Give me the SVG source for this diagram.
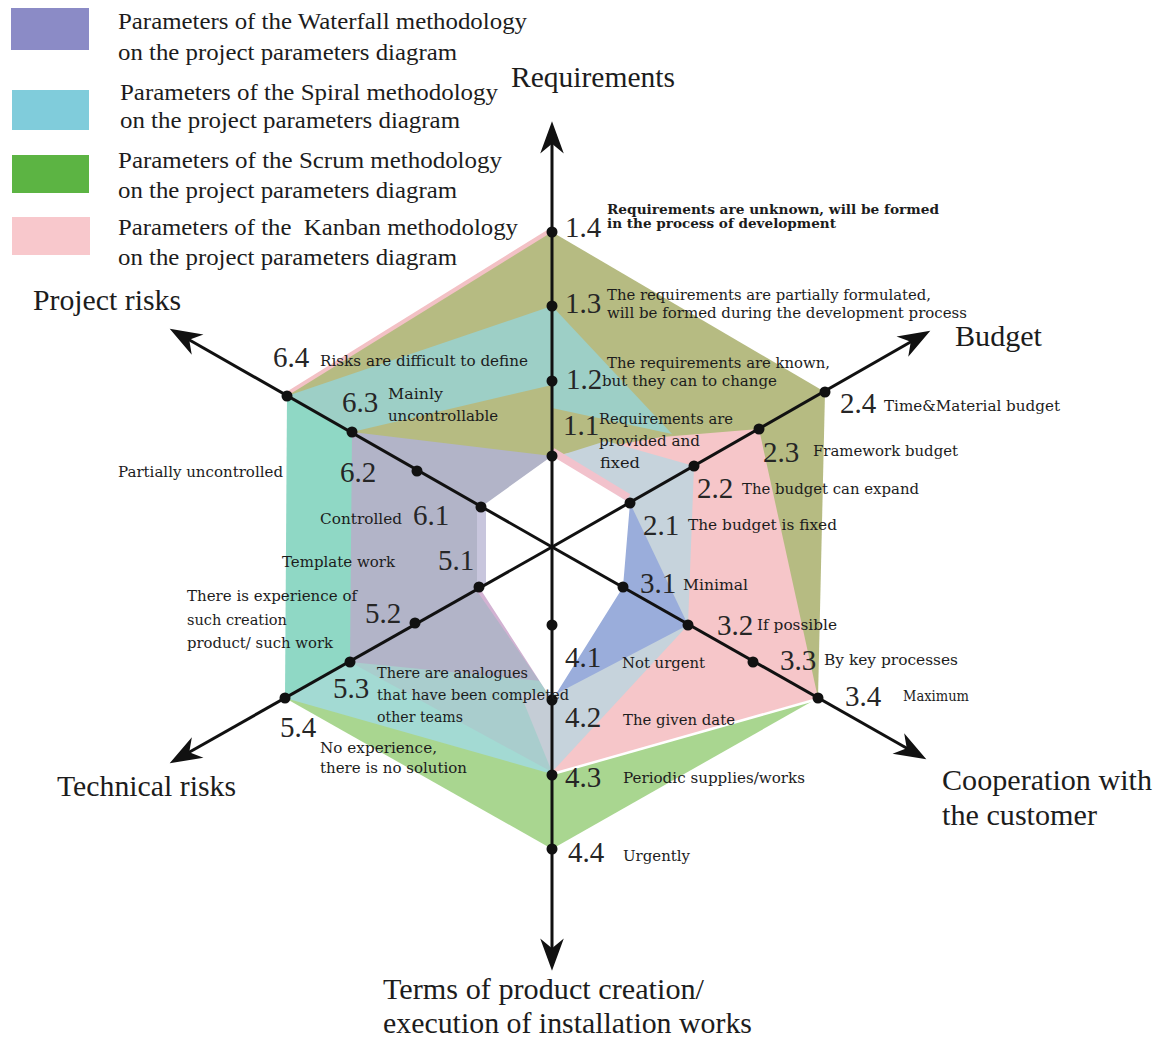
<svg xmlns="http://www.w3.org/2000/svg" width="1160" height="1039" viewBox="0 0 1160 1039">
  <defs>
    <style>
      .lg { font-family: "Liberation Serif", "Times New Roman", serif; font-size: 24px; fill: #1c1c1c; }
      .ax { font-family: "Liberation Serif", "Times New Roman", serif; font-size: 29px; fill: #1c1c1c; }
      .num { font-family: "Liberation Serif", "Times New Roman", serif; font-size: 29px; fill: #262626; }
      .sm { font-family: "DejaVu Serif", "Liberation Serif", serif; font-size: 14px; fill: #1c1c1c; }
      .tiny { font-family: "DejaVu Serif", "Liberation Serif", serif; font-size: 12px; font-weight: bold; fill: #1c1c1c; }
      .axis { stroke: #111; stroke-width: 3; fill: none; marker-end: url(#head); }
      .dot { fill: #111; }
      .olive { fill: #b6bb82; }
      .teal { fill: #9dcfc6; }
      .mint { fill: #8fd8c5; }
      .gp { fill: #b2b4c8; }
      .gb { fill: #c6d3dc; }
      .pink { fill: #f6c6c9; }
      .blue { fill: #9aaddb; }
      .green { fill: #a9d690; }
      .cyan { fill: #a3dad3; }
      .tg { fill: #a9cdcd; }
      .lgrey { fill: #c5cdd6; }
    </style>
    <marker id="head" markerUnits="userSpaceOnUse" markerWidth="40" markerHeight="30" viewBox="-22 -14 34 28" refX="0" refY="0" orient="auto">
      <path d="M10,0 L-20,-11 L-11,0 L-20,11 Z" fill="#111"/>
    </marker>
  </defs>

  <rect width="1160" height="1039" fill="#fff"/>

  <!-- legend -->
  <g id="legend">
    <g id="legend-waterfall">
      <rect x="11" y="8" width="78" height="42" fill="#8b8bc6"/>
      <text class="lg" x="118" y="29" textLength="409" lengthAdjust="spacingAndGlyphs">Parameters of the Waterfall methodology</text>
      <text class="lg" x="118" y="60" textLength="339" lengthAdjust="spacingAndGlyphs">on the project parameters diagram</text>
    </g>
    <g id="legend-spiral">
      <rect x="12" y="90" width="77" height="40" fill="#80ccdb"/>
      <text class="lg" x="120" y="100" textLength="378" lengthAdjust="spacingAndGlyphs">Parameters of the Spiral methodology</text>
      <text class="lg" x="120" y="128" textLength="340" lengthAdjust="spacingAndGlyphs">on the project parameters diagram</text>
    </g>
    <g id="legend-scrum">
      <rect x="12" y="155" width="77" height="38" fill="#5cb443"/>
      <text class="lg" x="118" y="168" textLength="384" lengthAdjust="spacingAndGlyphs">Parameters of the Scrum methodology</text>
      <text class="lg" x="118" y="198" textLength="339" lengthAdjust="spacingAndGlyphs">on the project parameters diagram</text>
    </g>
    <g id="legend-kanban">
      <rect x="12" y="217" width="78" height="38" fill="#f8c8cc"/>
      <text class="lg" x="118" y="235" textLength="400" lengthAdjust="spacingAndGlyphs" xml:space="preserve">Parameters of the  Kanban methodology</text>
      <text class="lg" x="118" y="265" textLength="339" lengthAdjust="spacingAndGlyphs">on the project parameters diagram</text>
    </g>
  </g>

  <!-- filled parameter bands, painted sector by sector from the outside in -->
  <g id="areas">
    <!-- requirements / budget -->
    <polygon class="olive" points="552,547 552,232 825,392"/>
    <polygon class="teal" points="552,306 672,434 552,408"/>
    <polygon class="pink" points="552,456 662,437 759,429 630,503"/>
    <polygon class="gb" points="552,458 606,441 694,466 630,503"/>
    <line x1="552" y1="452" x2="628" y2="498" stroke="#f2c2cc" stroke-width="9"/>
    <line x1="566" y1="471" x2="628" y2="505" stroke="#c8abd5" stroke-width="6"/>

    <!-- budget / cooperation -->
    <polygon class="olive" points="552,547 825,392 818,698"/>
    <polygon class="pink" points="552,547 759,429 818,698"/>
    <polygon class="gb" points="552,547 694,466 688,625"/>
    <polygon class="blue" points="552,547 630,503 688,625"/>

    <!-- cooperation / terms -->
    <polygon class="green" points="552,547 818,698 552,849"/>
    <polygon class="pink" points="552,547 818,698 552,775"/>
    <line x1="814" y1="700" x2="556" y2="773" stroke="#fff" stroke-width="2.5"/>
    <polygon class="gb" points="552,547 688,625 552,772"/>
    <polygon class="blue" points="552,547 688,625 556,694"/>

    <!-- terms / technical risks -->
    <polygon class="green" points="552,547 552,849 285,698"/>
    <polygon class="cyan" points="552,547 552,774 285,698"/>
    <polygon class="tg" points="552,547 552,772 350,662"/>
    <polygon class="lgrey" points="552,772 520,693 552,694"/>
    <polygon class="gp" points="552,547 350,662 552,682"/>
    <line x1="479" y1="587" x2="552" y2="692" stroke="#d2b2d2" stroke-width="8"/>

    <!-- technical risks / project risks -->
    <polygon class="mint" points="552,547 285,698 287,396"/>
    <polygon class="gp" points="552,547 350,662 352,432"/>
    <rect x="477" y="505" width="12" height="84" fill="#c8c6dd"/>

    <!-- project risks / requirements -->
    <polygon fill="#f3c1c5" points="552,547 283,394 552,227"/>
    <polygon class="olive" points="552,547 287,396 552,232"/>
    <polygon class="teal" points="552,547 287,396 552,306"/>
    <polygon class="olive" points="552,547 352,432 552,385"/>
    <polygon class="gp" points="552,547 352,432 552,456"/>

    <!-- empty centre -->
    <polygon fill="#fff" points="552,456 630,503 623,587 556,694 548,694 479,587 486,585 486,509 481,507"/>
  </g>

  <!-- axes with their arrowheads -->
  <g id="connectors">
    <line class="axis" x1="552" y1="547" x2="552" y2="132"/>
    <line class="axis" x1="552" y1="547" x2="921" y2="336"/>
    <line class="axis" x1="552" y1="547" x2="917" y2="754"/>
    <line class="axis" x1="552" y1="547" x2="552" y2="960"/>
    <line class="axis" x1="552" y1="547" x2="179" y2="758"/>
    <line class="axis" x1="552" y1="547" x2="179" y2="334"/>
  </g>

  <!-- scale points -->
  <g id="points">
    <circle class="dot" cx="552" cy="456" r="5.5"/><circle class="dot" cx="552" cy="381" r="5.5"/>
    <circle class="dot" cx="552" cy="306" r="5.5"/><circle class="dot" cx="552" cy="232" r="5.5"/>
    <circle class="dot" cx="630" cy="503" r="5.5"/><circle class="dot" cx="694" cy="466" r="5.5"/>
    <circle class="dot" cx="759" cy="429" r="5.5"/><circle class="dot" cx="825" cy="392" r="5.5"/>
    <circle class="dot" cx="623" cy="587" r="5.5"/><circle class="dot" cx="688" cy="625" r="5.5"/>
    <circle class="dot" cx="753" cy="662" r="5.5"/><circle class="dot" cx="818" cy="698" r="5.5"/>
    <circle class="dot" cx="552" cy="625" r="5.5"/><circle class="dot" cx="552" cy="700" r="5.5"/>
    <circle class="dot" cx="552" cy="775" r="5.5"/><circle class="dot" cx="552" cy="849" r="5.5"/>
    <circle class="dot" cx="479" cy="587" r="5.5"/><circle class="dot" cx="415" cy="623" r="5.5"/>
    <circle class="dot" cx="350" cy="662" r="5.5"/><circle class="dot" cx="285" cy="698" r="5.5"/>
    <circle class="dot" cx="481" cy="507" r="5.5"/><circle class="dot" cx="417" cy="471" r="5.5"/>
    <circle class="dot" cx="352" cy="432" r="5.5"/><circle class="dot" cx="287" cy="396" r="5.5"/>
  </g>

  <!-- axis titles -->
  <g id="axis-titles">
    <text class="ax" x="511" y="87" textLength="164" lengthAdjust="spacingAndGlyphs">Requirements</text>
    <text class="ax" x="955" y="346" textLength="87" lengthAdjust="spacingAndGlyphs">Budget</text>
    <text class="ax" x="942" y="790" textLength="210" lengthAdjust="spacingAndGlyphs">Cooperation with</text>
    <text class="ax" x="942" y="825" textLength="155" lengthAdjust="spacingAndGlyphs">the customer</text>
    <text class="ax" x="383" y="999" textLength="321" lengthAdjust="spacingAndGlyphs">Terms of product creation/</text>
    <text class="ax" x="383" y="1033" textLength="369" lengthAdjust="spacingAndGlyphs">execution of installation works</text>
    <text class="ax" x="57" y="796" textLength="179" lengthAdjust="spacingAndGlyphs">Technical risks</text>
    <text class="ax" x="33" y="310" textLength="148" lengthAdjust="spacingAndGlyphs">Project risks</text>
  </g>

  <!-- scale values -->
  <g id="values">
    <text class="num" x="565" y="237">1.4</text>
    <text class="num" x="565" y="313">1.3</text>
    <text class="num" x="566" y="389">1.2</text>
    <text class="num" x="563" y="435">1.1</text>
    <text class="num" x="840" y="413">2.4</text>
    <text class="num" x="763" y="462">2.3</text>
    <text class="num" x="697" y="498">2.2</text>
    <text class="num" x="643" y="535">2.1</text>
    <text class="num" x="640" y="593">3.1</text>
    <text class="num" x="717" y="635">3.2</text>
    <text class="num" x="780" y="670">3.3</text>
    <text class="num" x="845" y="706">3.4</text>
    <text class="num" x="565" y="667">4.1</text>
    <text class="num" x="565" y="727">4.2</text>
    <text class="num" x="565" y="787">4.3</text>
    <text class="num" x="568" y="862">4.4</text>
    <text class="num" x="438" y="570">5.1</text>
    <text class="num" x="365" y="623">5.2</text>
    <text class="num" x="333" y="698">5.3</text>
    <text class="num" x="280" y="737">5.4</text>
    <text class="num" x="413" y="525">6.1</text>
    <text class="num" x="340" y="482">6.2</text>
    <text class="num" x="342" y="412">6.3</text>
    <text class="num" x="273" y="367">6.4</text>
  </g>

  <!-- value descriptions -->
  <g id="descriptions">
    <text class="tiny" x="607" y="214" textLength="332" lengthAdjust="spacingAndGlyphs">Requirements are unknown, will be formed</text>
    <text class="tiny" x="607" y="228" textLength="229" lengthAdjust="spacingAndGlyphs">in the process of development</text>
    <text class="sm" x="607" y="300" textLength="324" lengthAdjust="spacingAndGlyphs">The requirements are partially formulated,</text>
    <text class="sm" x="607" y="318" textLength="360" lengthAdjust="spacingAndGlyphs">will be formed during the development process</text>
    <text class="sm" x="607" y="368" textLength="223" lengthAdjust="spacingAndGlyphs">The requirements are known,</text>
    <text class="sm" x="602" y="386" textLength="175" lengthAdjust="spacingAndGlyphs">but they can to change</text>
    <text class="sm" x="599" y="424" textLength="134" lengthAdjust="spacingAndGlyphs">Requirements are</text>
    <text class="sm" x="599" y="446" textLength="101" lengthAdjust="spacingAndGlyphs">provided and</text>
    <text class="sm" x="600" y="468" textLength="40" lengthAdjust="spacingAndGlyphs">fixed</text>
    <text class="sm" x="884" y="411" textLength="176" lengthAdjust="spacingAndGlyphs">Time&amp;Material budget</text>
    <text class="sm" x="813" y="456" textLength="145" lengthAdjust="spacingAndGlyphs">Framework budget</text>
    <text class="sm" x="742" y="494" textLength="177" lengthAdjust="spacingAndGlyphs">The budget can expand</text>
    <text class="sm" x="688" y="530" textLength="149" lengthAdjust="spacingAndGlyphs">The budget is fixed</text>
    <text class="sm" x="683" y="590" textLength="65" lengthAdjust="spacingAndGlyphs">Minimal</text>
    <text class="sm" x="757" y="630" textLength="80" lengthAdjust="spacingAndGlyphs">If possible</text>
    <text class="sm" x="824" y="665" textLength="134" lengthAdjust="spacingAndGlyphs">By key processes</text>
    <text class="sm" x="903" y="701" textLength="66" lengthAdjust="spacingAndGlyphs">Maximum</text>
    <text class="sm" x="622" y="668" textLength="83" lengthAdjust="spacingAndGlyphs">Not urgent</text>
    <text class="sm" x="623" y="725" textLength="112" lengthAdjust="spacingAndGlyphs">The given date</text>
    <text class="sm" x="623" y="783" textLength="182" lengthAdjust="spacingAndGlyphs">Periodic supplies/works</text>
    <text class="sm" x="623" y="861" textLength="67" lengthAdjust="spacingAndGlyphs">Urgently</text>
    <text class="sm" x="320" y="366" textLength="208" lengthAdjust="spacingAndGlyphs">Risks are difficult to define</text>
    <text class="sm" x="388" y="399" textLength="55" lengthAdjust="spacingAndGlyphs">Mainly</text>
    <text class="sm" x="388" y="421" textLength="110" lengthAdjust="spacingAndGlyphs">uncontrollable</text>
    <text class="sm" x="118" y="477" textLength="165" lengthAdjust="spacingAndGlyphs">Partially uncontrolled</text>
    <text class="sm" x="320" y="524" textLength="82" lengthAdjust="spacingAndGlyphs">Controlled</text>
    <text class="sm" x="282" y="567" textLength="113" lengthAdjust="spacingAndGlyphs">Template work</text>
    <text class="sm" x="187" y="601" textLength="170" lengthAdjust="spacingAndGlyphs">There is experience of</text>
    <text class="sm" x="187" y="625" textLength="100" lengthAdjust="spacingAndGlyphs">such creation</text>
    <text class="sm" x="187" y="648" textLength="146" lengthAdjust="spacingAndGlyphs">product/ such work</text>
    <text class="sm" x="377" y="678" textLength="151" lengthAdjust="spacingAndGlyphs">There are analogues</text>
    <text class="sm" x="377" y="700" textLength="192" lengthAdjust="spacingAndGlyphs">that have been completed</text>
    <text class="sm" x="377" y="722" textLength="86" lengthAdjust="spacingAndGlyphs">other teams</text>
    <text class="sm" x="320" y="753" textLength="117" lengthAdjust="spacingAndGlyphs">No experience,</text>
    <text class="sm" x="320" y="773" textLength="147" lengthAdjust="spacingAndGlyphs">there is no solution</text>
  </g>
</svg>
